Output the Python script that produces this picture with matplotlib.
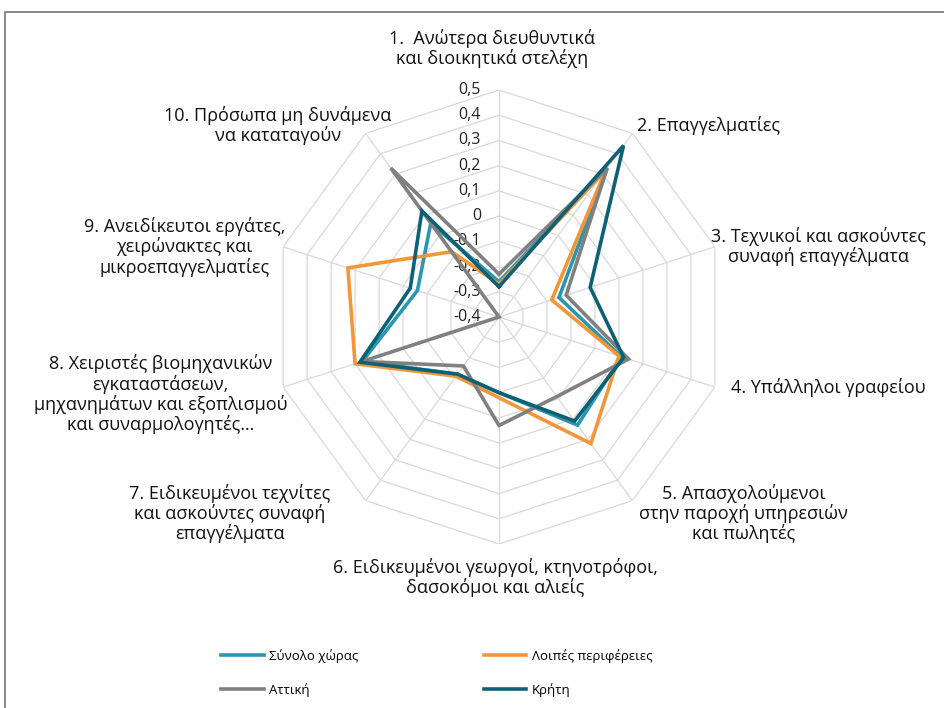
import numpy as np
import matplotlib
matplotlib.use("Agg")
import matplotlib.pyplot as plt
from matplotlib.transforms import offset_copy
from matplotlib.patches import Rectangle

plt.rcParams['font.family'] = ['Open Sans', 'DejaVu Sans']

categories = [
    "1.  Ανώτερα διευθυντικά\nκαι διοικητικά στελέχη",
    "2. Επαγγελματίες",
    "3. Τεχνικοί και ασκούντες\nσυναφή επαγγέλματα",
    "4. Υπάλληλοι γραφείου",
    "5. Απασχολούμενοι\nστην παροχή υπηρεσιών\nκαι πωλητές",
    "6. Ειδικευμένοι γεωργοί, κτηνοτρόφοι,\nδασοκόμοι και αλιείς",
    "7. Ειδικευμένοι τεχνίτες\nκαι ασκούντες συναφή\nεπαγγέλματα",
    "8. Χειριστές βιομηχανικών\nεγκαταστάσεων,\nμηχανημάτων και εξοπλισμού\nκαι συναρμολογητές…",
    "9. Ανειδίκευτοι εργάτες,\nχειρώνακτες και\nμικροεπαγγελματίες",
    "10. Πρόσωπα μη δυνάμενα\nνα καταταγούν",
]

synolo = [-0.26, 0.33, -0.15, 0.11, 0.13, -0.10, -0.12, 0.17, -0.06, 0.06]
loipes = [-0.27, 0.32, -0.18, 0.10, 0.22, -0.08, -0.11, 0.20, 0.23, -0.08]
attiki = [-0.23, 0.33, -0.12, 0.14, -0.01, 0.03, -0.16, 0.17, -0.40, 0.33]
kriti = [-0.28, 0.44, -0.02, 0.12, 0.11, -0.10, -0.12, 0.18, -0.03, 0.12]

rings = [-0.3, -0.2, -0.1, 0.0, 0.1, 0.2, 0.3, 0.4, 0.5]
ring_labels = ["0,5", "0,4", "0,3", "0,2", "0,1", "0", "-0,1", "-0,2", "-0,3", "-0,4"]
rmin, rmax = -0.4, 0.5

series = [
    ("Σύνολο χώρας", synolo, "#2A96AF"),
    ("Λοιπές περιφέρειες", loipes, "#F1973A"),
    ("Αττική", attiki, "#808080"),
    ("Κρήτη", kriti, "#0E6175"),
]

W, H = 944, 708
fig = plt.figure(figsize=(W / 100, H / 100), dpi=100)

# radar centre and radius in pixels
cx, cy, rad = 499, 317, 227
ax = fig.add_axes([(cx - rad) / W, (H - cy - rad) / H, 2 * rad / W, 2 * rad / H],
                  projection='polar')
ax.set_theta_zero_location('N')
ax.set_theta_direction(-1)
ax.set_ylim(rmin, rmax)
ax.axis('off')

n = len(categories)
theta = np.linspace(0, 2 * np.pi, n, endpoint=False)
theta_c = np.append(theta, theta[0])

grid_col = "#D9D9D9"
for r in rings:
    ax.plot(theta_c, [r] * (n + 1), color=grid_col, lw=0.9, zorder=1)
for t in theta:
    ax.plot([t, t], [rmin, rmax], color=grid_col, lw=0.9, zorder=1)

# value labels on the vertical spoke
tick_tr = offset_copy(ax.transData, fig=fig, x=-18, y=0, units='dots')
for v, lab in zip(np.linspace(rmax, rmin, 10), ring_labels):
    ax.text(0, v, lab, transform=tick_tr, ha='right', va='center',
            fontsize=11.5, color='#222222', zorder=2)

for name, vals, col in series:
    ax.plot(theta_c, vals + vals[:1], color=col, lw=2.6, label=name, zorder=3,
            solid_joinstyle='miter')

# category labels: pixel offsets from the outer vertex, alignment
label_pos = [
    (-7, 22, 'center', 'bottom'),
    (5, 8, 'left', 'center'),
    (-4, 0, 'left', 'center'),
    (16, 0, 'left', 'center'),
    (7, -13, 'left', 'center'),
    (-4, -14, 'center', 'top'),
    (-35, -13, 'right', 'center'),
    (4, -7, 'right', 'center'),
    (2, 0, 'right', 'center'),
    (26, 8, 'right', 'center'),
]
for t, lab, (dx, dy, ha, va) in zip(theta, categories, label_pos):
    tr = offset_copy(ax.transData, fig=fig, x=dx, y=dy, units='dots')
    ax.text(t, rmax, lab, transform=tr, ha=ha, va=va, multialignment='center',
            fontsize=13, color='#111111', linespacing=1.08)

handles, labels = ax.get_legend_handles_labels()
order = [0, 2, 1, 3]
fig.legend([handles[i] for i in order], [labels[i] for i in order],
           loc='center', bbox_to_anchor=(437 / W, (H - 673) / H), ncol=2,
           frameon=False, fontsize=9.5, handlelength=3.2, handletextpad=0.45,
           columnspacing=9.5, labelspacing=1.5)

# chart border
fig.add_artist(Rectangle((5 / W, -0.2), 1.5, (H - 12) / H + 0.2,
                         transform=fig.transFigure, fill=False,
                         edgecolor='#7F7F7F', lw=1.3))

fig.savefig("out.png", dpi=100)
